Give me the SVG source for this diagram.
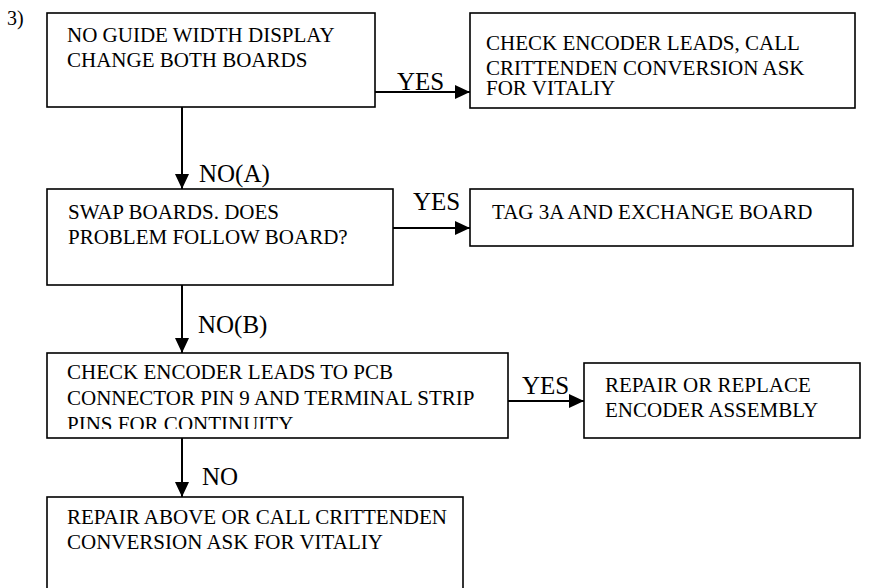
<svg xmlns="http://www.w3.org/2000/svg" width="888" height="588" viewBox="0 0 888 588">
<style>
.box{fill:#fff;stroke:#000;stroke-width:1.6}
.t{font-family:"Liberation Serif","Times New Roman",serif;font-size:21px;fill:#000}
.lbl{font-family:"Liberation Serif","Times New Roman",serif;font-size:25px;fill:#000}
.c{stroke:#000;stroke-width:2;fill:none;marker-end:url(#ah)}
</style>
<defs>
<marker id="ah" markerUnits="userSpaceOnUse" markerWidth="16" markerHeight="14" refX="15" refY="7" orient="auto">
<path d="M0,0 L15,7 L0,14 Z" fill="#000"/>
</marker>
<clipPath id="clip5"><rect x="47" y="353" width="461" height="76"/></clipPath>
</defs>
<rect width="888" height="588" fill="#fff"/>
<text class="t" x="7" y="25" style="font-size:20px">3)</text>
<g id="connectors">
<line class="c" x1="375" y1="92" x2="470" y2="92"/>
<line class="c" x1="182" y1="107" x2="182" y2="189"/>
<line class="c" x1="393" y1="228" x2="470" y2="228"/>
<line class="c" x1="182" y1="285" x2="182" y2="353"/>
<line class="c" x1="508" y1="401" x2="584" y2="401"/>
<line class="c" x1="182" y1="438" x2="182" y2="497"/>
<text class="lbl" x="397" y="90">YES</text>
<text class="lbl" x="199" y="182">NO(A)</text>
<text class="lbl" x="413" y="210">YES</text>
<text class="lbl" x="198" y="333">NO(B)</text>
<text class="lbl" x="522" y="394">YES</text>
<text class="lbl" x="202" y="485">NO</text>
</g>
<g id="n1">
<rect class="box" x="47" y="13" width="328" height="94"/>
<text class="t" x="67" y="42">NO GUIDE WIDTH DISPLAY</text>
<text class="t" x="67" y="67">CHANGE BOTH BOARDS</text>
</g>
<g id="n2">
<rect class="box" x="470" y="13" width="385" height="95"/>
<text class="t" x="486" y="50">CHECK ENCODER LEADS, CALL</text>
<text class="t" x="486" y="75">CRITTENDEN CONVERSION ASK</text>
<text class="t" x="486" y="95">FOR VITALIY</text>
</g>
<g id="n3">
<rect class="box" x="47" y="189" width="346" height="96"/>
<text class="t" x="68" y="219">SWAP BOARDS. DOES</text>
<text class="t" x="68" y="244">PROBLEM FOLLOW BOARD?</text>
</g>
<g id="n4">
<rect class="box" x="470" y="189" width="383" height="57"/>
<text class="t" x="492" y="219">TAG 3A AND EXCHANGE BOARD</text>
</g>
<g id="n5">
<rect class="box" x="47" y="353" width="461" height="85"/>
<g clip-path="url(#clip5)">
<text class="t" x="67" y="379">CHECK ENCODER LEADS TO PCB</text>
<text class="t" x="67" y="405">CONNECTOR PIN 9 AND TERMINAL STRIP</text>
<text class="t" x="67" y="431">PINS FOR CONTINUITY</text>
</g>
</g>
<g id="n6">
<rect class="box" x="584" y="363" width="276" height="75"/>
<text class="t" x="605" y="392">REPAIR OR REPLACE</text>
<text class="t" x="605" y="417">ENCODER ASSEMBLY</text>
</g>
<g id="n7">
<rect class="box" x="47" y="497" width="416" height="95"/>
<text class="t" x="67" y="524">REPAIR ABOVE OR CALL CRITTENDEN</text>
<text class="t" x="67" y="549">CONVERSION ASK FOR VITALIY</text>
</g>
</svg>
